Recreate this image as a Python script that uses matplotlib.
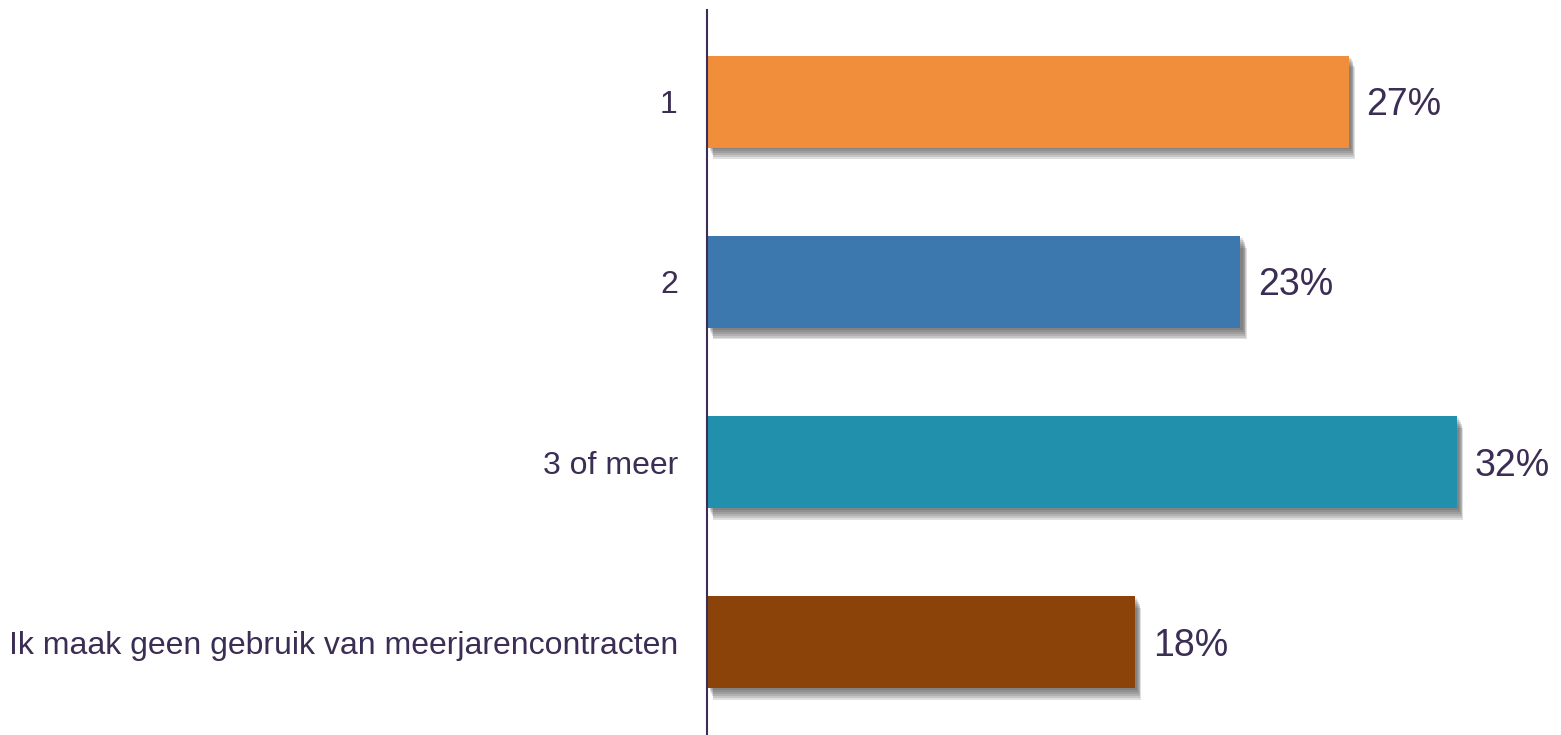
import numpy as np
import matplotlib.pyplot as plt
import matplotlib.patheffects as pe

categories = ["1", "2", "3 of meer", "Ik maak geen gebruik van meerjarencontracten"]
values = [27.3, 22.7, 31.9, 18.2]
colors = ["#F18E3C", "#3C77AE", "#2190AD", "#8B4309"]

text_color = "#3B2D54"
plt.rcParams['font.family'] = ['Liberation Sans', 'DejaVu Sans']

fig = plt.figure(figsize=(15.61, 7.35), dpi=100)
ax = fig.add_axes([707 / 1561, 0, 1 - 707 / 1561, 725 / 735])

y = np.arange(len(categories))
bars = ax.barh(y, values, height=0.51, color=colors)

# soft drop shadow under each bar
shadow = [pe.SimplePatchShadow(offset=(1.5 + 0.5 * k, -1.4 * k), shadow_rgbFace="#444444", alpha=0.16)
          for k in range(1, 7)]
for b in bars:
    b.set_path_effects(shadow + [pe.Normal()])

for yi, v in zip(y, values):
    ax.annotate(f"{round(v)}%", (v, yi), xytext=(13, -2.5), textcoords="offset points",
                va="center", ha="left", fontsize=27, color=text_color)

ax.set_xlim(0, (1561 - 707) / 23.5)
ax.set_ylim(3.514, -0.508)
ax.set_yticks(y)
ax.set_yticklabels(categories, fontsize=23, color=text_color)
ax.tick_params(axis="y", length=0, pad=21)
ax.set_xticks([])
for s in ["top", "right", "bottom"]:
    ax.spines[s].set_visible(False)
ax.spines["left"].set_color(text_color)
ax.spines["left"].set_linewidth(1.5)

fig.savefig("out.png", dpi=100)
